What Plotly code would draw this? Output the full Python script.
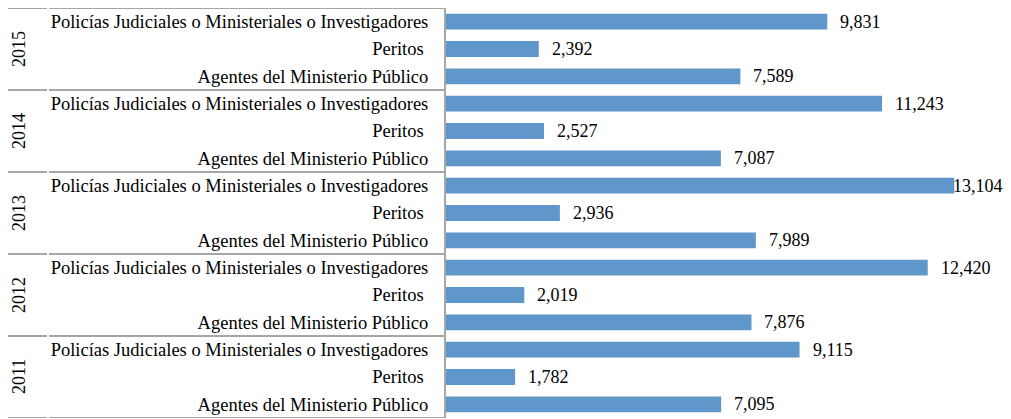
import plotly.graph_objects as go

years = ["2015", "2014", "2013", "2012", "2011"]
categories = [
    "Policías Judiciales o Ministeriales o Investigadores",
    "Peritos\u00a0",
    "Agentes del Ministerio Público",
]
values = {
    "2015": [9831, 2392, 7589],
    "2014": [11243, 2527, 7087],
    "2013": [13104, 2936, 7989],
    "2012": [12420, 2019, 7876],
    "2011": [9115, 1782, 7095],
}

FONT = "Liberation Serif"
BAR = "#5F97CB"
GRID = "#A6A6A6"

n = len(years) * len(categories)
ypos, xval, ylab = [], [], []
for gi, yr in enumerate(years):
    for ci, cat in enumerate(categories):
        pos = n - 1 - (gi * len(categories) + ci)
        ypos.append(pos)
        xval.append(values[yr][ci])
        ylab.append(cat)

OFF = 8  # page body margin
L, R, T, B = 446 - OFF, 22, 0, 1
W, H = 1011 - OFF, 419 - OFF
XMAX = 14000

fig = go.Figure()
fig.add_trace(go.Bar(
    x=xval, y=ypos, orientation="h", marker=dict(color=BAR, line=dict(width=0)),
    width=0.58, hoverinfo="skip",
))

annotations = []
for v, p in zip(xval, ypos):
    shift = 11 if v < XMAX * 0.9 else -3
    annotations.append(dict(
        x=v, y=p, xref="x", yref="y", text=f"{v:,}", showarrow=False,
        xanchor="left", yanchor="middle", xshift=shift,
        font=dict(family=FONT, size=18, color="black"),
    ))

shapes = []
gsize = len(categories)
for gi, yr in enumerate(years):
    top = n - 1 - gi * gsize + 0.5
    bot = top - gsize
    center = (top + bot) / 2
    annotations.append(dict(
        x=0, y=center, xref="paper", yref="y", text=yr, showarrow=False,
        textangle=-90, xanchor="center", yanchor="middle", xshift=-(446 - 19),
        font=dict(family=FONT, size=18, color="black"),
    ))

bounds = [n - 1 - gi * gsize + 0.5 for gi in range(len(years))] + [-0.5]
for b in bounds:
    for (a0, a1) in [(-446, -446 + 47), (-446 + 49, -1)]:
        shapes.append(dict(
            type="line", xref="paper", yref="y", xsizemode="pixel", xanchor=0,
            x0=a0, x1=a1, y0=b, y1=b, line=dict(color=GRID, width=2),
        ))

fig.update_layout(
    width=W, height=H,
    margin=dict(l=L, r=R, t=T, b=B, pad=0),
    paper_bgcolor="white", plot_bgcolor="white",
    showlegend=False,
    annotations=annotations,
    shapes=shapes,
    xaxis=dict(range=[0, XMAX], visible=False, showgrid=False, zeroline=False, fixedrange=True),
    yaxis=dict(
        range=[-0.5, n - 0.5], tickmode="array", tickvals=ypos, ticktext=ylab,
        showgrid=False, zeroline=False, showline=True, linecolor=GRID, linewidth=2,
        ticks="", ticklabelstandoff=12,
        tickfont=dict(family=FONT, size=18.5, color="black"), fixedrange=True,
    ),
)

fig.write_html("out.html")
